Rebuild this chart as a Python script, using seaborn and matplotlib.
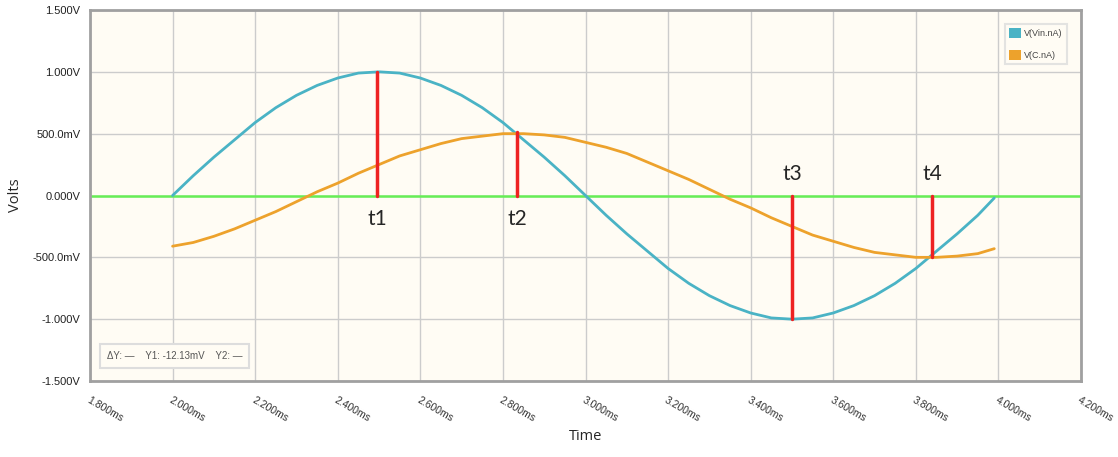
import numpy as np
import pandas as pd
import matplotlib.pyplot as plt
import seaborn as sns
from matplotlib.patches import Patch

# time in ms, values in volts
time_ms = [2.00, 2.05, 2.10, 2.15, 2.20, 2.25, 2.30, 2.35, 2.40, 2.45,
           2.50, 2.55, 2.60, 2.65, 2.70, 2.75, 2.80, 2.85, 2.90, 2.95,
           3.00, 3.05, 3.10, 3.15, 3.20, 3.25, 3.30, 3.35, 3.40, 3.45,
           3.50, 3.55, 3.60, 3.65, 3.70, 3.75, 3.80, 3.85, 3.90, 3.95, 3.99]
v_in = [0.00, 0.16, 0.31, 0.45, 0.59, 0.71, 0.81, 0.89, 0.95, 0.99,
        1.00, 0.99, 0.95, 0.89, 0.81, 0.71, 0.59, 0.45, 0.31, 0.16,
        0.00, -0.16, -0.31, -0.45, -0.59, -0.71, -0.81, -0.89, -0.95, -0.99,
        -1.00, -0.99, -0.95, -0.89, -0.81, -0.71, -0.59, -0.45, -0.31, -0.16, -0.02]
v_c = [-0.41, -0.38, -0.33, -0.27, -0.20, -0.13, -0.05, 0.03, 0.10, 0.18,
       0.25, 0.32, 0.37, 0.42, 0.46, 0.48, 0.50, 0.50, 0.49, 0.47,
       0.43, 0.39, 0.34, 0.27, 0.20, 0.13, 0.05, -0.03, -0.10, -0.18,
       -0.25, -0.32, -0.37, -0.42, -0.46, -0.48, -0.50, -0.50, -0.49, -0.47, -0.43]
series_names = ["V(Vin.nA)", "V(C.nA)"]
series_colors = ["#4AB3C5", "#EDA22C"]

# cursor markers: time, value at top/bottom end
marker_labels = ["t1", "t2", "t3", "t4"]
marker_t = [2.495, 2.835, 3.50, 3.84]
marker_v = [1.00, 0.51, -1.00, -0.50]

x_ticks = [1.8, 2.0, 2.2, 2.4, 2.6, 2.8, 3.0, 3.2, 3.4, 3.6, 3.8, 4.0, 4.2]
x_tick_labels = ["1.800ms", "2.000ms", "2.200ms", "2.400ms", "2.600ms", "2.800ms", "3.000ms",
                 "3.200ms", "3.400ms", "3.600ms", "3.800ms", "4.000ms", "4.200ms"]
y_ticks = [-1.5, -1.0, -0.5, 0.0, 0.5, 1.0, 1.5]
y_tick_labels = ["-1.500V", "-1.000V", "-500.0mV", "0.000V", "500.0mV", "1.000V", "1.500V"]

df = pd.DataFrame({
    "Time": time_ms * 2,
    "Volts": v_in + v_c,
    "trace": [series_names[0]] * len(time_ms) + [series_names[1]] * len(time_ms),
})

sns.set_style("white")
plt.rcParams['font.family'] = ['Liberation Sans', 'DejaVu Sans']

fig = plt.figure(figsize=(11.18, 4.57), dpi=100)
ax = fig.add_axes([90 / 1118, 1 - 381 / 457, (1081 - 90) / 1118, (381 - 10) / 457])
ax.set_facecolor("#FFFCF4")

for x in x_ticks:
    ax.axvline(x, color="#CCCCCC", lw=1, zorder=0)
for y in y_ticks:
    ax.axhline(y, color="#CCCCCC", lw=1, zorder=0)

ax.axhline(0, color="#66EE55", lw=1.8, zorder=1)

sns.lineplot(data=df, x="Time", y="Volts", hue="trace", palette=series_colors,
             lw=2, legend=False, ax=ax, zorder=2)

for lab, t, v in zip(marker_labels, marker_t, marker_v):
    ax.plot([t, t], [0, v], color="#EE2222", lw=2.5, zorder=3)
    if v > 0:
        ax.text(t, -0.11, lab, ha="center", va="top", fontsize=15, family="Lato")
    else:
        ax.text(t, 0.09, lab, ha="center", va="bottom", fontsize=15, family="Lato")

ax.set_xlim(1.8, 4.2)
ax.set_ylim(-1.5, 1.5)
ax.set_xticks(x_ticks)
ax.set_xticklabels(x_tick_labels, rotation=-30, ha="left", va="top",
                   rotation_mode="anchor", fontsize=7.5, color="#333333")
ax.set_yticks(y_ticks)
ax.set_yticklabels(y_tick_labels, fontsize=8, color="#222222")
ax.tick_params(axis="both", length=4, width=1, color="#999999", pad=3)
ax.tick_params(axis="x", pad=6)

for s in ax.spines.values():
    s.set_visible(True)
    s.set_color("#A0A0A0")
    s.set_linewidth(2)

ax.set_xlabel("Time", fontsize=10.5, family="Open Sans", labelpad=4)
ax.set_ylabel("Volts", fontsize=10.5, family="Open Sans", labelpad=7)

handles = [Patch(facecolor=c, edgecolor="none") for c in series_colors]
leg = ax.legend(handles, series_names, loc="upper right", bbox_to_anchor=(0.99, 0.975),
                fontsize=6.5, frameon=True, fancybox=False, handlelength=1.3,
                handleheight=1.3, labelspacing=1.3, borderpad=0.5, handletextpad=0.3)
leg.get_frame().set_edgecolor("#DDDDDD")
leg.get_frame().set_facecolor("#FFFCF4")
leg.get_frame().set_linewidth(1.5)
for t in leg.get_texts():
    t.set_color("#444444")

ax.text(0.017, 0.067, "\u0394Y: \u2014    Y1: -12.13mV    Y2: \u2014", transform=ax.transAxes,
        fontsize=7, color="#555555", va="center", ha="left",
        bbox=dict(boxstyle="square,pad=0.7", fc="#FFFCF4", ec="#DDDDDD", lw=1.5))

fig.savefig("out.png", dpi=100)
